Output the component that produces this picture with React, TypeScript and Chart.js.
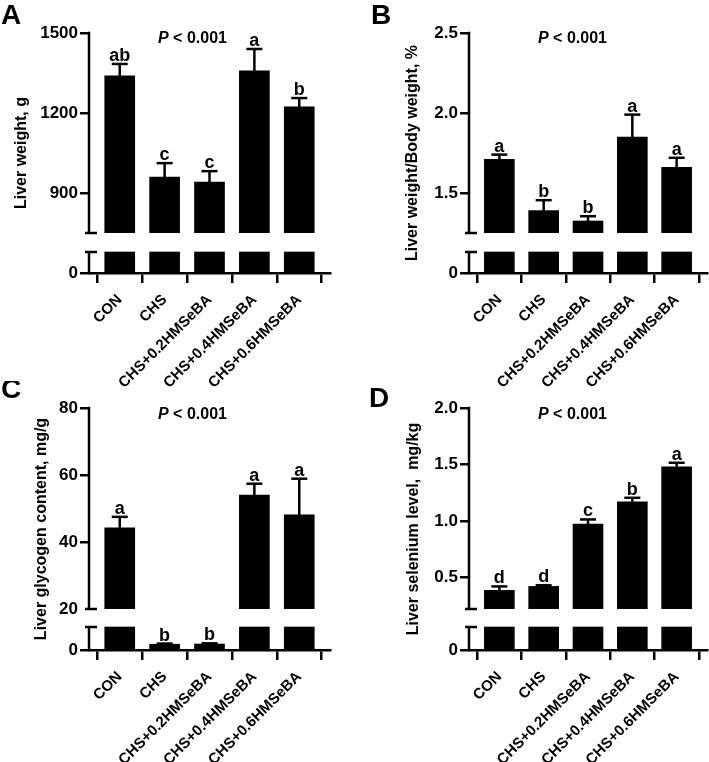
import React, { useEffect, useRef } from 'react';
import { Chart, registerables } from 'chart.js';

Chart.register(...registerables);

// ---------------- data ----------------
const categories = ['CON', 'CHS', 'CHS+0.2HMSeBA', 'CHS+0.4HMSeBA', 'CHS+0.6HMSeBA'];
const xPositions = [0, 1, 2, 3, 4];

const liverWeightMean = [1339, 960, 941, 1358, 1223];
const liverWeightSE = [45, 52, 41, 82, 33];
const liverWeightLetters = ['ab', 'c', 'c', 'a', 'b'];
const liverWeightTicks = [900, 1200, 1500];

const liverRatioMean = [1.71, 1.39, 1.325, 1.85, 1.66];
const liverRatioSE = [0.03, 0.065, 0.03, 0.14, 0.06];
const liverRatioLetters = ['a', 'b', 'b', 'a', 'a'];
const liverRatioTicks = [1.5, 2.0, 2.5];

const glycogenMean = [44.2, 2.5, 2.6, 54.0, 48.1];
const glycogenSE = [3.3, 0.3, 0.3, 3.4, 10.8];
const glycogenLetters = ['a', 'b', 'b', 'a', 'a'];
const glycogenTicks = [20, 40, 60, 80];

const seleniumMean = [0.385, 0.42, 0.973, 1.17, 1.48];
const seleniumSE = [0.035, 0.01, 0.04, 0.035, 0.035];
const seleniumLetters = ['d', 'd', 'c', 'b', 'a'];
const seleniumTicks = [0.5, 1.0, 1.5, 2.0];

const lowerTicks = [0];
const pText = ' < 0.001';

// ---------------- styles / layout ----------------
const FONT = '"Liberation Sans", Arial, Helvetica, sans-serif';
const LW = 2.5;

type Panel = {
  letter: string;
  title: string;
  means: number[];
  se: number[];
  letters: string[];
  ticks: number[];
  uMin: number;
  uMax: number;
  lowTop: number;
  decimals: number;
  // layout
  cx: number; cy: number; cw: number; ch: number;
  left: number; top: number; right: number; bottom: number;
  upperPx: number; gapPx: number; lowerPx: number;
  titleX: number; letterX: number; letterY: number; pX: number; pY: number;
};

const panels: Panel[] = [
  {
    letter: 'A', title: 'Liver weight, g',
    means: liverWeightMean, se: liverWeightSE, letters: liverWeightLetters, ticks: liverWeightTicks,
    uMin: 750, uMax: 1500, lowTop: 400, decimals: 0,
    cx: 0, cy: 0, cw: 354, ch: 405,
    left: 89, top: 33, right: 330, bottom: 273,
    upperPx: 200, gapPx: 19, lowerPx: 21,
    titleX: 22, letterX: 1, letterY: 24, pX: 158, pY: 43,
  },
  {
    letter: 'B', title: 'Liver weight/Body weight, %',
    means: liverRatioMean, se: liverRatioSE, letters: liverRatioLetters, ticks: liverRatioTicks,
    uMin: 1.25, uMax: 2.5, lowTop: 0.5, decimals: 1,
    cx: 354, cy: 0, cw: 355, ch: 405,
    left: 115, top: 33, right: 353, bottom: 273,
    upperPx: 200, gapPx: 19, lowerPx: 21,
    titleX: 59, letterX: 17, letterY: 24, pX: 184, pY: 43,
  },
  {
    letter: 'C', title: 'Liver glycogen content, mg/g',
    means: glycogenMean, se: glycogenSE, letters: glycogenLetters, ticks: glycogenTicks,
    uMin: 20, uMax: 80, lowTop: 10, decimals: 0,
    cx: 0, cy: 381, cw: 354, ch: 381,
    left: 89, top: 27, right: 330, bottom: 269,
    upperPx: 201, gapPx: 18, lowerPx: 23,
    titleX: 42, letterX: 1, letterY: 17, pX: 158, pY: 38,
  },
  {
    letter: 'D', title: 'Liver selenium level,  mg/kg',
    means: seleniumMean, se: seleniumSE, letters: seleniumLetters, ticks: seleniumTicks,
    uMin: 0.22, uMax: 2.0, lowTop: 0.15, decimals: 1,
    cx: 354, cy: 381, cw: 355, ch: 381,
    left: 115, top: 27, right: 353, bottom: 269,
    upperPx: 201, gapPx: 18, lowerPx: 23,
    titleX: 60, letterX: 15, letterY: 26, pX: 184, pY: 38,
  },
];

const Y_W = 60;

function line(ctx: CanvasRenderingContext2D, x1: number, y1: number, x2: number, y2: number) {
  ctx.beginPath();
  ctx.moveTo(x1, y1);
  ctx.lineTo(x2, y2);
  ctx.stroke();
}

function buildConfig(p: Panel): any {
  const upperData = xPositions
    .filter((i) => p.means[i] > p.uMin)
    .map((i) => ({ x: i, y: [p.uMin, p.means[i]] }));
  const lowerData = xPositions.map((i) => ({ x: i, y: [0, Math.min(p.means[i], p.lowTop)] }));
  const yBotMax = (p.lowTop * (p.gapPx + p.lowerPx)) / p.lowerPx;
  const xH = p.ch - p.bottom;

  const decor = {
    id: 'decor' + p.letter,
    afterDraw(chart: any) {
      const ctx: CanvasRenderingContext2D = chart.ctx;
      const yT = chart.scales.yTop;
      const yB = chart.scales.yBot;
      const xs = chart.scales.x;
      const x0 = chart.chartArea.left;
      ctx.save();
      ctx.strokeStyle = '#000';
      ctx.fillStyle = '#000';
      ctx.lineWidth = LW;
      ctx.lineCap = 'butt';
      // upper axis segment
      const yTopPx = yT.getPixelForValue(p.uMax);
      const yUMin = yT.getPixelForValue(p.uMin);
      line(ctx, x0, yTopPx - LW / 2, x0, yUMin);
      line(ctx, x0 - 4, yUMin, x0 + 8, yUMin);
      // lower axis segment
      const yZero = yB.getPixelForValue(0);
      const yLow = yB.getPixelForValue(p.lowTop);
      line(ctx, x0, yZero, x0, yLow);
      line(ctx, x0 - 4, yLow, x0 + 8, yLow);
      // error bars + letters
      ctx.font = `bold 18px ${FONT}`;
      ctx.textAlign = 'center';
      ctx.textBaseline = 'alphabetic';
      xPositions.forEach((i) => {
        const v = p.means[i];
        const e = p.se[i];
        const sc = v > p.uMin ? yT : yB;
        const x = xs.getPixelForValue(i);
        const py = sc.getPixelForValue(v);
        const pe = sc.getPixelForValue(v + e);
        line(ctx, x, py, x, pe);
        line(ctx, x - 8, pe, x + 8, pe);
        ctx.fillText(p.letters[i], x, pe - 3);
      });
      // P value
      ctx.textAlign = 'left';
      ctx.font = `italic bold 16px ${FONT}`;
      ctx.fillText('P', p.pX, p.pY);
      const wP = ctx.measureText('P').width;
      ctx.font = `bold 16px ${FONT}`;
      ctx.fillText(pText, p.pX + wP, p.pY);
      // y title
      ctx.save();
      ctx.translate(p.titleX, (chart.chartArea.top + chart.chartArea.bottom) / 2);
      ctx.rotate(-Math.PI / 2);
      ctx.textAlign = 'center';
      ctx.textBaseline = 'middle';
      ctx.font = `bold 16px ${FONT}`;
      ctx.fillText(p.title, 0, 0);
      ctx.restore();
      // panel letter
      ctx.textAlign = 'left';
      ctx.textBaseline = 'alphabetic';
      ctx.font = `bold 28px ${FONT}`;
      ctx.fillText(p.letter, p.letterX, p.letterY);
      ctx.restore();
    },
  };

  const yGrid = {
    drawOnChartArea: false,
    drawTicks: true,
    tickLength: 9,
    lineWidth: LW,
    color: '#000',
  };

  return {
    type: 'bar',
    data: {
      datasets: [
        {
          data: lowerData,
          yAxisID: 'yBot',
          xAxisID: 'x',
          backgroundColor: '#000',
          borderWidth: 0,
          barThickness: 30,
          grouped: false,
        },
        {
          data: upperData,
          yAxisID: 'yTop',
          xAxisID: 'x',
          backgroundColor: '#000',
          borderWidth: 0,
          barThickness: 30,
          grouped: false,
        },
      ],
    },
    options: {
      responsive: false,
      animation: false,
      events: [],
      layout: {
        padding: {
          left: p.left - Y_W,
          top: p.top,
          right: p.cw - p.right,
          bottom: 0,
        },
      },
      plugins: { legend: { display: false }, tooltip: { enabled: false } },
      scales: {
        x: {
          type: 'linear',
          position: 'bottom',
          min: -0.685,
          max: 4.685,
          offset: false,
          afterBuildTicks: (s: any) => {
            s.ticks = xPositions.map((v) => ({ value: v }));
          },
          afterFit: (s: any) => {
            s.height = xH;
          },
          grid: { drawOnChartArea: false, drawTicks: true, tickLength: 10, lineWidth: LW, color: '#000' },
          border: { display: true, color: '#000', width: LW },
          ticks: {
            autoSkip: false,
            minRotation: 45,
            maxRotation: 45,
            padding: 8,
            color: '#000',
            font: { family: FONT, weight: 'bold', size: 15 },
            callback: (v: any) => categories[Math.round(v)] ?? '',
          },
        },
        yBot: {
          type: 'linear',
          position: 'left',
          stack: 'y',
          stackWeight: p.gapPx + p.lowerPx,
          weight: 0,
          min: 0,
          max: yBotMax,
          afterBuildTicks: (s: any) => {
            s.ticks = lowerTicks.map((v) => ({ value: v }));
          },
          afterFit: (s: any) => {
            s.width = Y_W;
          },
          grid: yGrid,
          border: { display: false },
          ticks: {
            padding: 2,
            color: '#000',
            font: { family: FONT, weight: 'bold', size: 17 },
            callback: (v: any) => String(v),
          },
        },
        yTop: {
          type: 'linear',
          position: 'left',
          stack: 'y',
          stackWeight: p.upperPx,
          weight: 1,
          min: p.uMin,
          max: p.uMax,
          afterBuildTicks: (s: any) => {
            s.ticks = p.ticks.map((v) => ({ value: v }));
          },
          afterFit: (s: any) => {
            s.width = Y_W;
          },
          grid: {
            ...yGrid,
            tickColor: (c: any) => (c.tick && c.tick.value === p.uMin ? 'rgba(0,0,0,0)' : '#000'),
          },
          border: { display: false },
          ticks: {
            padding: 2,
            color: '#000',
            font: { family: FONT, weight: 'bold', size: 17 },
            callback: (v: any) => Number(v).toFixed(p.decimals),
          },
        },
      },
    },
    plugins: [decor],
  };
}

function PanelChart({ p }: { p: Panel }) {
  const ref = useRef<HTMLCanvasElement>(null);
  useEffect(() => {
    if (!ref.current) return;
    const chart = new Chart(ref.current, buildConfig(p));
    return () => chart.destroy();
  }, [p]);
  return (
    <canvas
      ref={ref}
      width={p.cw}
      height={p.ch}
      style={{ position: 'absolute', left: p.cx, top: p.cy, width: p.cw, height: p.ch }}
    />
  );
}

export default function App() {
  return (
    <div style={{ position: 'absolute', left: 0, top: 0, width: 709, height: 762, background: '#fff', overflow: 'hidden' }}>
      {panels.map((p) => (
        <PanelChart key={p.letter} p={p} />
      ))}
    </div>
  );
}
